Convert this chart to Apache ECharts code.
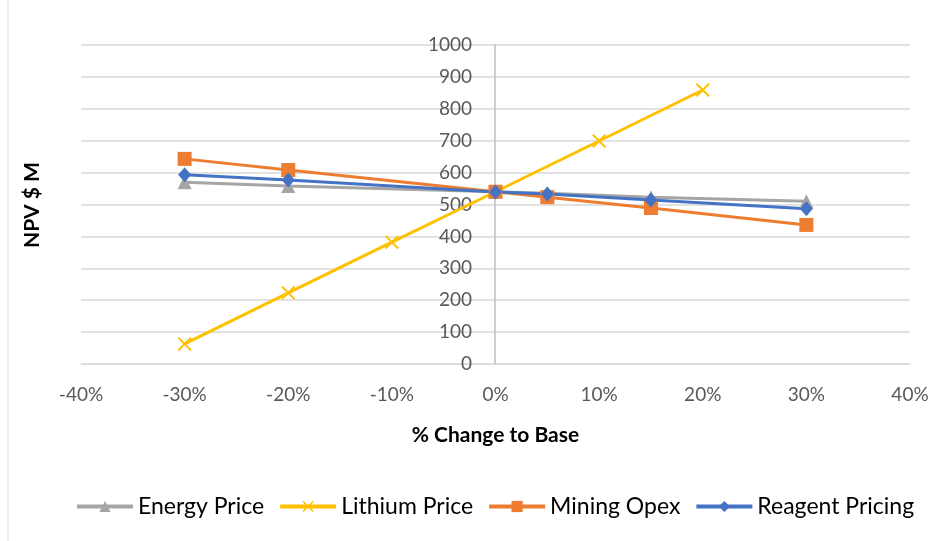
<!DOCTYPE html>
<html>
<head>
<meta charset="utf-8">
<script src="https://cdn.jsdelivr.net/npm/echarts@6/dist/echarts.min.js"></script>
<style>
  html, body { margin: 0; padding: 0; background: #fff; }
  #chart { width: 949px; height: 541px; }
</style>
</head>
<body>
<div id="chart"></div>
<script>
// % change to base
const energyX = [-30, -20, 0, 5, 15, 30];
const energyY = [570, 558, 540, 535, 523, 510];
const lithiumX = [-30, -20, -10, 0, 10, 20];
const lithiumY = [63, 223, 382, 540, 699, 859];
const miningX = [-30, -20, 0, 5, 15, 30];
const miningY = [643, 608, 540, 523, 489, 436];
const reagentX = [-30, -20, 0, 5, 15, 30];
const reagentY = [593, 577, 539, 533, 514, 487];

const pair = (xs, ys) => xs.map((x, i) => [x, ys[i]]);
const font = "Lato, 'Open Sans', sans-serif";
const crossPath = "path://M0,1L1,0L5,4L9,0L10,1L6,5L10,9L9,10L5,6L1,10L0,9L4,5Z";

const chart = echarts.init(document.getElementById("chart"));

chart.setOption({
  animation: false,
  textStyle: { fontFamily: font },
  grid: { left: 81, right: 39, top: 45, bottom: 177 },
  legend: {
    bottom: 18,
    left: 70,
    itemWidth: 56,
    itemHeight: 14,
    itemGap: 14,
    lineStyle: { width: 4 },
    textStyle: { fontSize: 23, color: "#000", fontFamily: font },
  },
  graphic: [
    {
      type: "text",
      rotation: Math.PI / 2,
      x: 32,
      y: 205,
      style: {
        text: "NPV $ M",
        font: "bold 21px " + font,
        fill: "#000",
        textAlign: "center",
        textVerticalAlign: "middle",
      },
    },
    {
      type: "line",
      shape: { x1: 8, y1: 0, x2: 8, y2: 541 },
      style: { stroke: "#d9d9d9", lineWidth: 1 },
    },
  ],
  xAxis: {
    type: "value",
    min: -40,
    max: 40,
    interval: 10,
    name: "% Change to Base",
    nameLocation: "middle",
    nameGap: 61,
    nameTextStyle: { fontSize: 21, fontWeight: "bold", color: "#000", fontFamily: font },
    axisLine: { onZero: false, lineStyle: { color: "#d9d9d9" } },
    axisTick: { show: false },
    splitLine: { show: false },
    axisLabel: { formatter: "{value}%", fontSize: 19, color: "#595959", margin: 21 },
  },
  yAxis: {
    type: "value",
    min: 0,
    max: 1000,
    interval: 100,
    position: "left",
    offset: -414,
    axisLine: { show: true, onZero: false, lineStyle: { color: "#bfbfbf", width: 1.5 } },
    axisTick: { show: false },
    splitLine: { lineStyle: { color: "#d9d9d9", width: 1.5 } },
    axisLabel: { fontSize: 19, color: "#595959", margin: 23, formatter: (v) => String(v) },
  },
  series: [
    {
      name: "Energy Price",
      type: "line",
      data: pair(energyX, energyY),
      symbol: "triangle",
      symbolSize: 14,
      lineStyle: { width: 3, color: "#a5a5a5" },
      itemStyle: { color: "#a5a5a5" },
    },
    {
      name: "Lithium Price",
      type: "line",
      data: pair(lithiumX, lithiumY),
      symbol: crossPath,
      symbolSize: 14,
      lineStyle: { width: 3, color: "#ffc000" },
      itemStyle: { color: "#ffc000" },
    },
    {
      name: "Mining Opex",
      type: "line",
      data: pair(miningX, miningY),
      symbol: "rect",
      symbolSize: 14,
      lineStyle: { width: 3, color: "#ed7d31" },
      itemStyle: { color: "#ed7d31" },
    },
    {
      name: "Reagent Pricing",
      type: "line",
      data: pair(reagentX, reagentY),
      symbol: "diamond",
      symbolSize: [13, 15],
      lineStyle: { width: 3, color: "#4472c4" },
      itemStyle: { color: "#4472c4" },
    },
  ],
});
</script>
</body>
</html>
